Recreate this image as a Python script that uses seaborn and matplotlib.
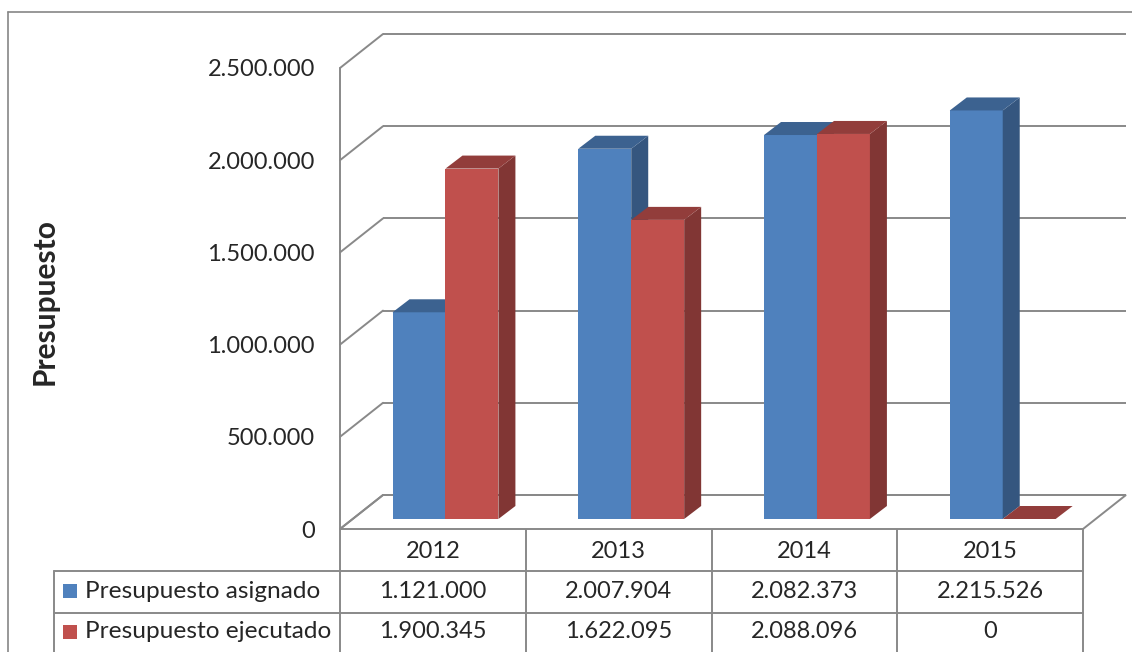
import matplotlib
matplotlib.use("Agg")
import matplotlib.pyplot as plt
import matplotlib.transforms as mtransforms
from matplotlib.patches import Polygon, Rectangle
import numpy as np
import pandas as pd
import seaborn as sns

# ---- data -------------------------------------------------------------
years = ["2012", "2013", "2014", "2015"]
series = ["Presupuesto asignado", "Presupuesto ejecutado"]
asignado = [1121000, 2007904, 2082373, 2215526]
ejecutado = [1900345, 1622095, 2088096, 0]
y_ticks = [0, 500000, 1000000, 1500000, 2000000, 2500000]
y_label = "Presupuesto"

BLUE = "#4F81BD"
RED = "#C0504D"
GRID = "#898989"
FS = 17


def fmt(v):
    return f"{v:,.0f}".replace(",", ".")


def shade(color, k):
    r, g, b = matplotlib.colors.to_rgb(color)
    return (r * k, g * k, b * k)


sns.set_theme(style="white")
plt.rcParams["font.family"] = ["Lato", "DejaVu Sans"]

W, H = 1132, 652
fig = plt.figure(figsize=(W / 100, H / 100), dpi=100)

# overlay in pixel coordinates (frame, data table, labels)
ov = fig.add_axes([0, 0, 1, 1], zorder=0)
ov.set_xlim(0, W)
ov.set_ylim(H, 0)
ov.axis("off")

# front plane of the 3D box
x_left, x_right, y_zero, y_top = 340, 1083, 529, 68
ax = fig.add_axes([x_left / W, 1 - y_zero / H,
                   (x_right - x_left) / W, (y_zero - y_top) / H], zorder=1)
ax.patch.set_visible(False)

df = pd.DataFrame({
    "year": years * 2,
    "serie": [series[0]] * len(years) + [series[1]] * len(years),
    "value": asignado + ejecutado,
})
sns.barplot(data=df, x="year", y="value", hue="serie", hue_order=series,
            palette=[BLUE, RED], width=0.57, saturation=1, gap=0,
            errorbar=None, legend=False, ax=ax, linewidth=0)

ymax = y_ticks[-1]
ax.set_xlim(-0.5, len(years) - 0.5)
ax.set_ylim(0, ymax)

# pixel -> data offsets for the oblique depth
sx = len(years) / (x_right - x_left)
sy = ymax / (y_zero - y_top)


def off(dx, dy):
    return dx * sx, dy * sy


bdx, bdy = off(12.6, 10)   # bars sit slightly behind the front edge
ddx, ddy = off(17, 13)     # bar depth
wdx, wdy = off(43, 34)     # wall depth

# walls and floor
xl, xr = -0.5, len(years) - 0.5
floor = Polygon([(xl, 0), (xr, 0), (xr + wdx, wdy), (xl + wdx, wdy)],
                closed=True, facecolor="white", edgecolor=GRID, lw=1.4,
                zorder=1, clip_on=False)
ax.add_patch(floor)
for v in y_ticks:
    ax.plot([xl + wdx, xr + wdx], [v + wdy, v + wdy], color=GRID, lw=1.4,
            zorder=1, clip_on=False, solid_capstyle="butt")
    ax.plot([xl, xl + wdx], [v, v + wdy], color=GRID, lw=1.4,
            zorder=1, clip_on=False)
ax.plot([xl, xl], [0, ymax], color=GRID, lw=1.4, zorder=1, clip_on=False)

# 3D faces for every bar
for k, cont in enumerate(ax.containers):
    z = 2 + k
    for p in cont.patches:
        x0, w, h = p.get_x(), p.get_width(), p.get_height()
        fc = p.get_facecolor()
        x0 += bdx
        yb = bdy
        p.set_x(x0)
        p.set_y(yb)
        p.set_zorder(z)
        p.set_clip_on(False)
        side = Polygon([(x0 + w, yb), (x0 + w + ddx, yb + ddy),
                        (x0 + w + ddx, yb + h + ddy), (x0 + w, yb + h)],
                       closed=True, facecolor=shade(fc, 0.67), lw=0,
                       zorder=z, clip_on=False)
        top = Polygon([(x0, yb + h), (x0 + w, yb + h),
                       (x0 + w + ddx, yb + h + ddy), (x0 + ddx, yb + h + ddy)],
                      closed=True, facecolor=shade(fc, 0.76), lw=0,
                      zorder=z, clip_on=False)
        ax.add_patch(side)
        ax.add_patch(top)

# axis styling
ax.set_yticks(y_ticks, [fmt(v) for v in y_ticks])
ax.set_xticks([])
ax.set_xlabel("")
ax.set_ylabel("")
ax.tick_params(axis="y", length=0, pad=18, labelsize=FS)
for s in ax.spines.values():
    s.set_visible(False)

ov.text(45, 302, y_label, rotation=90, ha="center", va="center",
        fontsize=21.5, fontweight="bold")

# outer frame
ov.plot([8, 8], [H + 2, 12], color="#868686", lw=1.2)
ov.plot([8, W + 2], [12, 12], color="#868686", lw=1.2)

# data table
trans = mtransforms.blended_transform_factory(ax.transData, ov.transData)
row_tops = [571, 613]
row_mid = [591, 632]
for y in row_tops:
    ov.plot([54, x_right], [y, y], color=GRID, lw=1.4)
ov.plot([54, 54], [row_tops[0], H + 2], color=GRID, lw=1.4)
for i in range(len(years) + 1):
    ov.plot([i - 0.5, i - 0.5], [y_zero, H + 2], color=GRID, lw=1.4,
            transform=trans)
for i, yr in enumerate(years):
    ov.text(i, 551, yr, ha="center", va="center", fontsize=FS, transform=trans)
    ov.text(i, row_mid[0], fmt(asignado[i]), ha="center", va="center",
            fontsize=FS, transform=trans)
    ov.text(i, row_mid[1], fmt(ejecutado[i]), ha="center", va="center",
            fontsize=FS, transform=trans)
for name, col, ym in zip(series, [BLUE, RED], row_mid):
    ov.add_patch(Rectangle((63, ym - 7), 14, 14, facecolor=col, lw=0))
    ov.text(85, ym, name, ha="left", va="center", fontsize=17.6)

fig.savefig("out.png", dpi=100)
